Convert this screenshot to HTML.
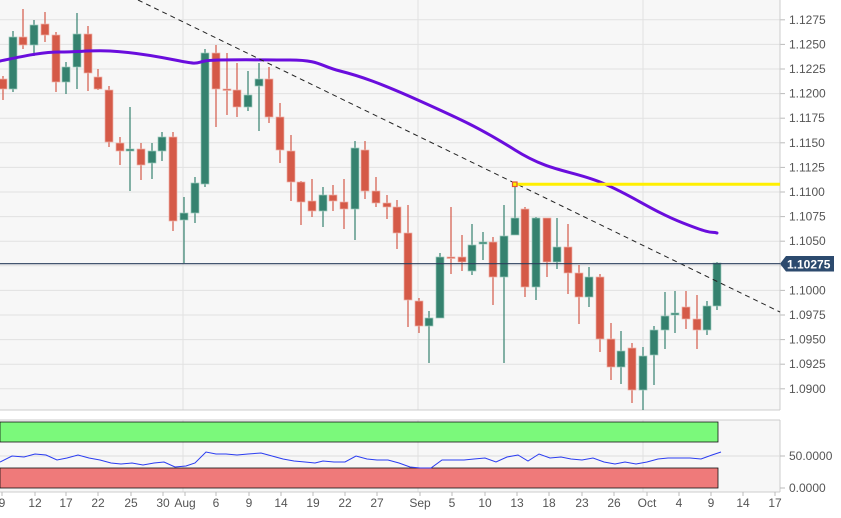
<!DOCTYPE html>
<html><head><meta charset="utf-8"><style>
html,body{margin:0;padding:0;background:#fff;width:841px;height:518px;overflow:hidden}
svg{display:block;font-family:"Liberation Sans",sans-serif}
</style></head><body>
<svg id="s" width="841" height="518" xmlns="http://www.w3.org/2000/svg"></svg>
<script>
var s=document.getElementById('s'),h='';
h+='<rect x="0" y="0" width="780" height="410" fill="#f7f7f7"/>';
h+='<rect x="0" y="420" width="780" height="72" fill="#f7f7f7"/>';
for(var i=0;i<16;i++){var y=19.8+i*24.6;h+='<line x1="0" x2="780" y1="'+y+'" y2="'+y+'" stroke="#e2e2e2" stroke-width="1"/>';
 var p=(1.1275-i*0.0025).toFixed(4);h+='<line x1="780" x2="785" y1="'+y+'" y2="'+y+'" stroke="#bbb"/><text x="789" y="'+(y+4)+'" font-size="12" fill="#555">'+p+'</text>';}
[183,418,643].forEach(function(x){h+='<line x1="'+x+'" x2="'+x+'" y1="0" y2="410" stroke="#e2e2e2"/><line x1="'+x+'" x2="'+x+'" y1="420" y2="492" stroke="#e2e2e2"/>';});
h+='<line x1="780" x2="780" y1="0" y2="410" stroke="#ccc"/><line x1="0" x2="780" y1="410" y2="410" stroke="#ccc"/>';
h+='<line x1="0" x2="780" y1="420" y2="420" stroke="#ccc"/><line x1="780" x2="780" y1="420" y2="492" stroke="#ccc"/><line x1="0" x2="780" y1="492" y2="492" stroke="#ccc"/>';
var c=[[3,76,79,89,100,'r'],[13,31,37,89,92,'g'],[23,9,37,45,49,'r'],[34,20,25,45,56,'g'],[45,12,24,35,42,'r'],[56,32,35,82,92,'r'],[66,62,67,82,94,'g'],[77,13,34,67,89,'g'],[88,26,34,73,91,'r'],[98,69,77,89,90,'r'],[109,86,90,142,147,'r'],[120,137,143,151,165,'r'],[130,107,149,151,191,'g'],[141,143,149,165,180,'r'],[152,143,151,163,179,'g'],[162,132,137,151,161,'g'],[173,132,137,221,231,'r'],[184,197,213,220,263,'g'],[195,177,183,213,223,'g'],[205,49,53,184,187,'g'],[216,45,53,89,127,'r'],[227,53,89,90,115,'r'],[237,63,90,107,117,'r'],[248,71,95,107,111,'g'],[259,63,79,86,131,'g'],[269,67,79,117,123,'r'],[280,103,117,150,163,'r'],[291,135,151,182,201,'r'],[301,181,182,202,225,'r'],[312,179,201,211,217,'r'],[323,187,195,211,227,'g'],[333,185,195,201,211,'r'],[344,179,202,209,229,'r'],[355,141,148,209,240,'g'],[365,141,150,191,199,'r'],[376,177,191,203,207,'r'],[387,195,203,207,219,'r'],[397,200,207,233,249,'r'],[408,205,233,300,327,'r'],[419,298,301,326,333,'r'],[429,311,318,326,363,'g'],[440,253,257,318,318,'g'],[451,207,257,258,274,'r'],[462,235,257,262,271,'r'],[472,224,245,271,275,'g'],[483,232,242,244,260,'g'],[493,237,242,277,305,'r'],[504,205,236,277,363,'g'],[515,185,218,235,235,'g'],[525,207,209,287,297,'r'],[536,217,218,287,300,'g'],[547,218,218,262,277,'r'],[557,218,247,262,269,'g'],[568,224,247,273,294,'r'],[579,265,273,297,324,'r'],[589,267,277,297,307,'g'],[600,274,277,339,352,'r'],[611,323,339,367,380,'r'],[621,331,351,367,384,'g'],[632,343,348,390,403,'r'],[643,347,356,390,410,'g'],[654,326,330,355,385,'g'],[665,292,316,330,349,'g'],[675,291,313,315,333,'g'],[686,291,307,319,329,'r'],[697,295,319,330,349,'r'],[707,301,306,330,335,'g'],[717,262,263,306,310,'g']];
c.forEach(function(d){var col=d[5]=='g'?'#35826f':'#d55a48',bc=d[5]=='g'?'#9cc9bd':'#efb2a9';
 h+='<line x1="'+d[0]+'" x2="'+d[0]+'" y1="'+d[1]+'" y2="'+d[4]+'" stroke="'+col+'" stroke-width="1.2"/>';
 var bh=Math.max(d[3]-d[2],1.5);h+='<rect x="'+(d[0]-4)+'" y="'+d[2]+'" width="8" height="'+bh+'" fill="'+col+'" stroke="'+bc+'" stroke-width="0.7"/>';});
h+='<path fill="none" stroke="#6a0ddd" stroke-width="3" stroke-linejoin="round" stroke-linecap="round" d="M0,61 C20,57 40,52 60,52 S90,50 110,51 S150,55 175,60 S195,63 205,61 S260,60 290,60 S320,66 340,71 S380,83 420,101 S480,128 515,150 S570,170 600,182 S650,210 683,223 S710,231 717,233"/>';
h+='<line x1="138" y1="0" x2="780" y2="312" stroke="#222" stroke-width="1" stroke-dasharray="5,4"/>';
h+='<line x1="515" x2="780" y1="184.3" y2="184.3" stroke="#ffef00" stroke-width="3"/>';
h+='<rect x="512.5" y="182" width="4.5" height="4.5" fill="#ffef00" stroke="#e0533d" stroke-width="1.2"/>';
h+='<line x1="0" x2="780" y1="263.7" y2="263.7" stroke="#2b3f5c" stroke-width="1.2"/>';
h+='<path d="M780,263.7 L786,256 L834,256 L834,271.5 L786,271.5 Z" fill="#2c4a6e"/><text x="787" y="268.3" font-size="12" font-weight="bold" fill="#fff">1.10275</text>';
h+='<rect x="0" y="422" width="718" height="20" fill="#7bf97b" stroke="#111" stroke-width="0.8"/>';
h+='<rect x="0" y="468" width="718" height="20" fill="#ef7a7a" stroke="#111" stroke-width="0.8"/>';
h+='<line x1="0" x2="780" y1="456" y2="456" stroke="#ddd"/>';
h+='<polyline fill="none" stroke="#2a3cf0" stroke-width="1" points="0,462 12,456 24,457 35,454 46,455 57,460 67,458 78,455 89,458 100,460 111,463 121,464 132,463 143,465 154,463 164,462 175,467 186,466 195,463 206,452 216,454 226,454 237,455 248,454 261,453 272,456 283,459 294,461 305,462 315,463 323,461 334,462 345,462 356,456 367,459 377,460 388,460 399,463 410,467 420,468 431,468 442,460 453,460 464,460 474,459 485,458 496,462 507,457 518,455 528,461 539,454 550,458 561,457 571,459 582,460 593,458 604,462 615,464 625,462 636,464 647,462 658,459 668,458 679,458 690,458 701,459 712,455 721,452"/>';
h+='<line x1="780" x2="785" y1="456" y2="456" stroke="#bbb"/><text x="789" y="460" font-size="12" fill="#555">50.0000</text>';
h+='<line x1="780" x2="785" y1="488" y2="488" stroke="#bbb"/><text x="789" y="492" font-size="12" fill="#555">0.0000</text>';
var L=[['9',2],['12',35],['17',66],['22',98],['25',131],['30',163],['Aug',185],['6',216],['9',249],['14',281],['19',313],['22',345],['27',377],['Sep',420],['5',452],['10',485],['13',517],['18',549],['23',582],['26',614],['Oct',647],['4',679],['9',711],['14',743],['17',775]];
L.forEach(function(l){h+='<line x1="'+l[1]+'" x2="'+l[1]+'" y1="492" y2="496" stroke="#bbb"/><text x="'+l[1]+'" y="507" font-size="12" fill="#555" text-anchor="middle">'+l[0]+'</text>';});
s.innerHTML=h;
</script>
</body></html>
